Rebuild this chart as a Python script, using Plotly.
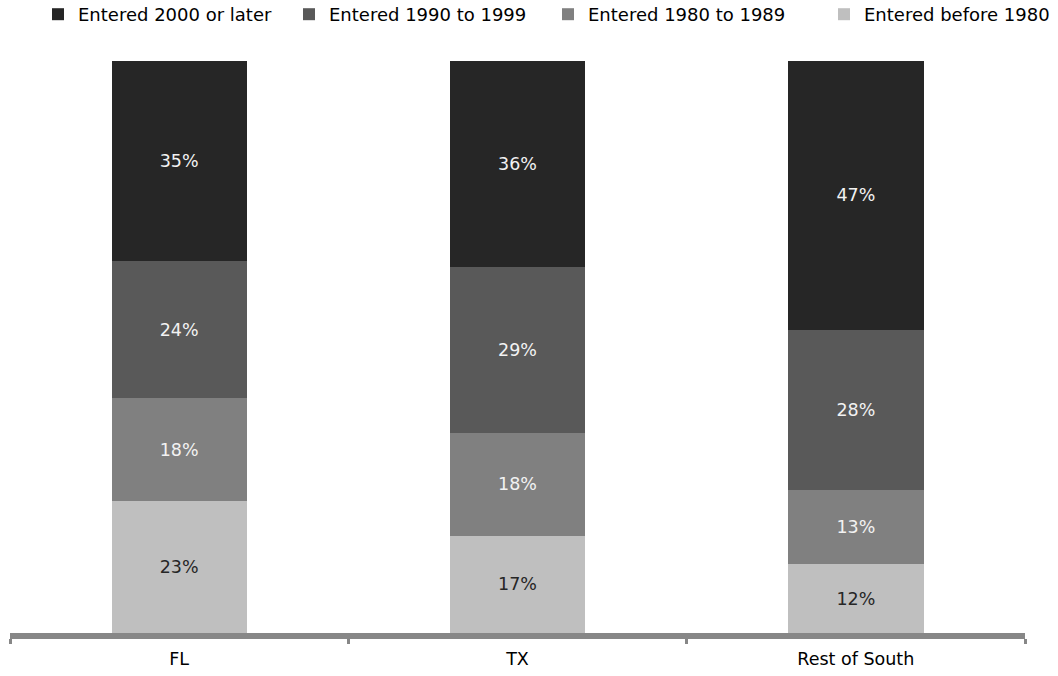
import plotly.graph_objects as go

categories = ["FL", "TX", "Rest of South"]
series_names = ["Entered before 1980", "Entered 1980 to 1989", "Entered 1990 to 1999", "Entered 2000 or later"]
before_1980 = [23, 17, 12]
from_1980_to_1989 = [18, 18, 13]
from_1990_to_1999 = [24, 29, 28]
from_2000_on = [35, 36, 47]

values = [before_1980, from_1980_to_1989, from_1990_to_1999, from_2000_on]
colors = ["#bfbfbf", "#808080", "#595959", "#262626"]
text_colors = ["#262626", "#f2f2f2", "#f2f2f2", "#f2f2f2"]
legend_x = [843, 567, 308, 57]
legend_ids = ["legend4", "legend3", "legend2", "legend"]

FONT = "DejaVu Sans"
W, H = 1058, 676
L, R, T, B = 10, 33, 61, 43
PW, PH = W - L - R, H - T - B

fig = go.Figure()
for name, vals, col, tcol, lid in zip(series_names, values, colors, text_colors, legend_ids):
    fig.add_trace(go.Bar(
        x=categories, y=vals, name=name, width=0.4,
        marker=dict(color=col, line=dict(width=0)),
        text=[f"{v}%" for v in vals], textposition="inside",
        insidetextanchor="middle", textangle=0,
        textfont=dict(color=tcol, size=17.5, family=FONT),
        hoverinfo="skip", legend=lid,
    ))

layout_legends = {}
for lid, lx in zip(legend_ids, legend_x):
    layout_legends[lid] = dict(
        orientation="h", xref="container", yref="paper",
        x=(lx - 14 - 5) / W, y=1 + (T + 4) / PH, xanchor="left", yanchor="top",
        font=dict(size=18, family=FONT, color="#000000"),
        bgcolor="rgba(0,0,0,0)", borderwidth=0,
    )

fig.update_layout(
    width=W, height=H,
    barmode="stack",
    paper_bgcolor="white", plot_bgcolor="white",
    margin=dict(l=L, r=R, t=T, b=B, autoexpand=False),
    showlegend=True,
    **layout_legends,
    xaxis=dict(
        range=[-0.5, 2.5], showgrid=False, zeroline=False,
        showline=True, linecolor="#878787", linewidth=6,
        ticks="outside", tickson="boundaries", ticklen=5, tickwidth=3, tickcolor="#878787",
        tickfont=dict(size=17.5, family=FONT, color="#000000"),
        ticklabelstandoff=5,
    ),
    yaxis=dict(range=[0, 100], visible=False, showgrid=False, zeroline=False),
)

fig.write_html("out.html", config={"displayModeBar": False},
               post_script="document.body.style.margin='0';")
